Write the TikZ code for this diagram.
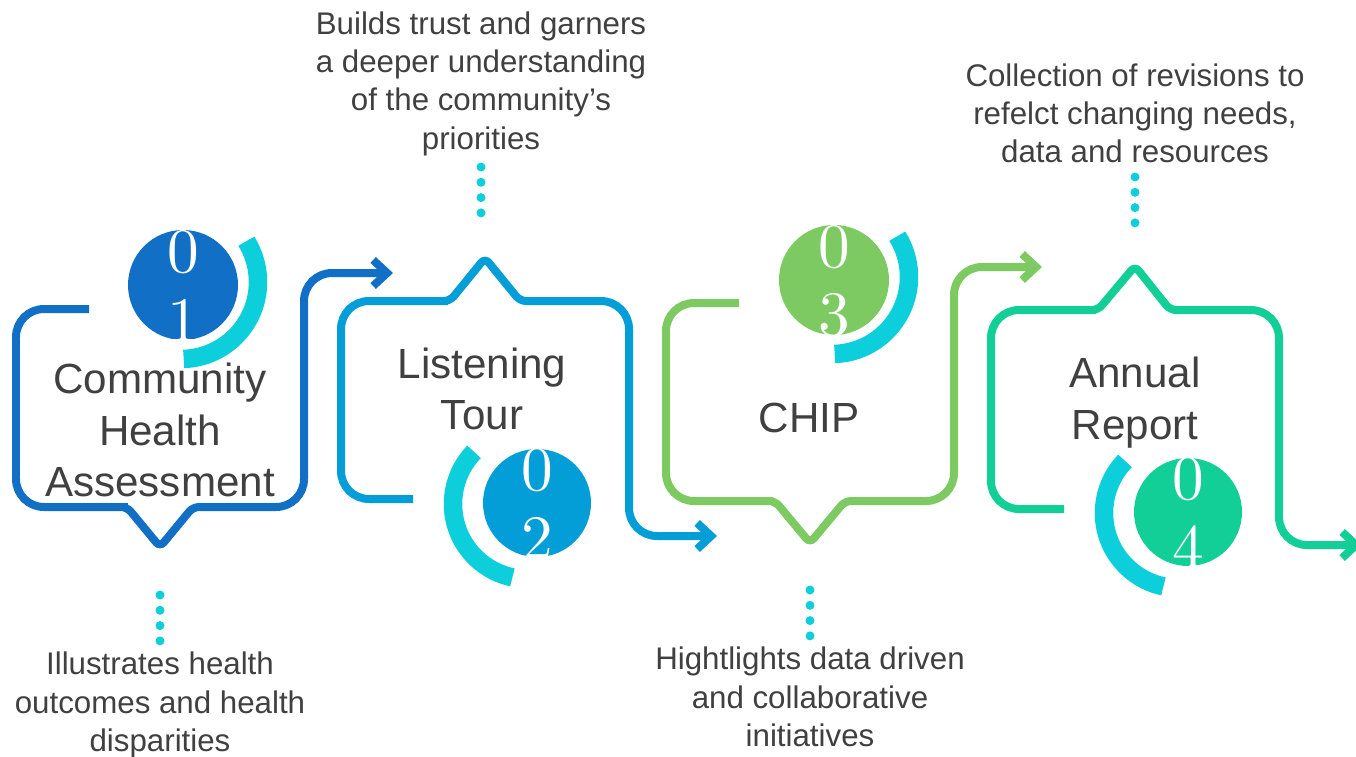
\documentclass[tikz,border=0pt]{standalone}
\usepackage{fontspec}
\newfontfamily\labelfont{Liberation Sans}
\newfontfamily\numfont{lmroman10-regular.otf}
\usetikzlibrary{arrows.meta}
\definecolor{stageone}{RGB}{17,112,197}
\definecolor{stagetwo}{RGB}{3,157,216}
\definecolor{stagethree}{RGB}{125,202,98}
\definecolor{stagefour}{RGB}{18,207,152}
\definecolor{ringcyan}{RGB}{13,207,219}
\definecolor{textgray}{RGB}{64,64,64}
\tikzset{
  stage/.style={line width=0.16cm, rounded corners=\boxr, -{Straight Barb[sharp, length=0.28cm, width=0.52cm]}},
  ring/.style={draw=ringcyan, line width=0.37cm},
  stagenum/.style={text=white, font=\numfont\fontsize{36}{39}\selectfont, align=center, inner sep=0pt},
  title/.style={text=textgray, font=\labelfont\fontsize{24}{29.5}\selectfont, align=center, inner sep=0pt},
  note/.style={text=textgray, font=\labelfont\fontsize{17.8}{21.8}\selectfont, align=center, inner sep=0pt}
}
\begin{document}
\begin{tikzpicture}[x=0.02cm, y=-0.02cm]
\pgfmathsetlengthmacro\boxr{0.56cm}
\pgfmathsetlengthmacro\tipr{0.12cm}
\pgfmathsetmacro\dotgap{15.3}
\useasboundingbox (0,0) rectangle (1356,757);
% the four stage outlines
\draw[stage, draw=stageone] (89,309) -- (16,309) -- (16,507) -- (100,507) [rounded corners=\tipr] -- (127,507) -- (160,547) -- (193,507) -- (220,507) [rounded corners=\boxr] -- (304,507) -- (304,273) -- (393,273);
\draw[stage, draw=stagetwo] (413,499) -- (341,499) -- (341,301) -- (420,301) [rounded corners=\tipr] -- (450,301) -- (485,258) -- (520,301) -- (550,301) [rounded corners=\boxr] -- (629,301) -- (629,536) -- (717,536);
\draw[stage, draw=stagethree] (739,303) -- (666,303) -- (666,501) -- (745,501) [rounded corners=\tipr] -- (775,501) -- (810,543) -- (845,501) -- (875,501) [rounded corners=\boxr] -- (954,501) -- (954,267) -- (1042,267);
\draw[stage, draw=stagefour] (1064,509) -- (991,509) -- (991,310) -- (1068,310) [rounded corners=\tipr] -- (1098,310) -- (1135,266) -- (1170,310) -- (1200,310) [rounded corners=\boxr] -- (1279,310) -- (1279,545) -- (1362,545);
% numbered discs with their rings
\fill[stageone] (183,285) circle[radius=55];
\draw[ring] (181,282) ++(88:77) arc[start angle=88, end angle=-32, radius=77];
\node[stagenum] (num1) at (183,286) {0\\1};
\fill[stagetwo] (537,503) circle[radius=54];
\draw[ring] (528,504) ++(-136:75) arc[start angle=-136, end angle=-258, radius=75];
\node[stagenum] (num2) at (537,504) {0\\2};
\fill[stagethree] (834,280) circle[radius=55];
\draw[ring] (832,277) ++(88:77) arc[start angle=88, end angle=-32, radius=77];
\node[stagenum] (num3) at (834,281) {0\\3};
\fill[stagefour] (1188,512) circle[radius=54];
\draw[ring] (1179,513) ++(-136:75) arc[start angle=-136, end angle=-258, radius=75];
\node[stagenum] (num4) at (1188,513) {0\\4};
% stage titles
\node[title] (cha) at (160,430) {Community\\Health\\Assessment};
\node[title] (tour) at (482,389) {Listening\\Tour};
\node[title] (chip) at (809,418) {CHIP};
\node[title] (report) at (1135,403) {Annual\\Report};
% notes and dotted leaders
\node[note] (notetour) at (481,83.5) {Builds trust and garners\\a deeper understanding\\of the community’s\\priorities};
\node[note] (notecha) at (160,705) {Illustrates health\\outcomes and health\\disparities};
\node[note] (notechip) at (810,697) {Hightlights data driven\\and collaborative\\initiatives};
\node[note] (notereport) at (1135,113.5) {Collection of revisions to\\refelct changing needs,\\data and resources};
\foreach \k in {0,...,3} \fill[ringcyan] (481,167+\dotgap*\k) circle[radius=4.5];
\foreach \k in {0,...,3} \fill[ringcyan] (160,595+\dotgap*\k) circle[radius=4.5];
\foreach \k in {0,...,3} \fill[ringcyan] (810,590+\dotgap*\k) circle[radius=4.5];
\foreach \k in {0,...,3} \fill[ringcyan] (1135,177+\dotgap*\k) circle[radius=4.5];
\end{tikzpicture}
\end{document}
